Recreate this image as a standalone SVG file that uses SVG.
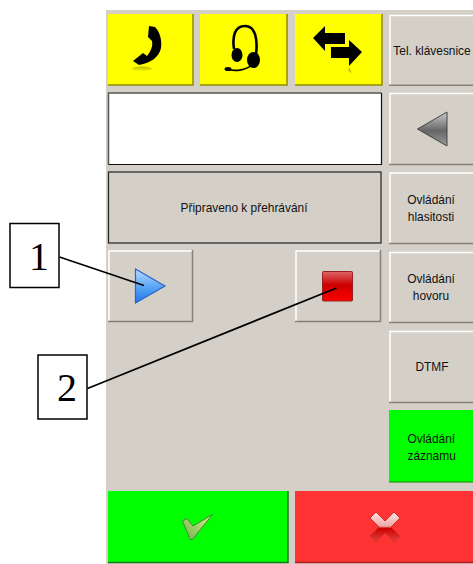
<svg xmlns="http://www.w3.org/2000/svg" width="473" height="564" viewBox="0 0 473 564">
<style>
.t{font-family:"Liberation Sans",Arial,sans-serif;font-size:11.9px;fill:#111;text-anchor:middle}
.l{text-anchor:start}
.n{font-family:"Liberation Serif","Times New Roman",serif;font-size:40px;fill:#000;text-anchor:middle}
.hi{fill:none;stroke:#fff;stroke-width:1.5}
.lo{fill:none;stroke:#85817b;stroke-width:1.5}
.face{fill:#d4d0c8}
.y{fill:#ff0;stroke:none}
.yl{fill:none;stroke:#8c8c00;stroke-width:1.5}
.b{fill:#fff;stroke:#000;stroke-width:1.5}
</style>
<defs>
<linearGradient id="gb" x1="0" y1="0" x2="0" y2="1"><stop offset="0" stop-color="#bcdcff"/><stop offset=".5" stop-color="#5ea8f5"/><stop offset="1" stop-color="#1f78e8"/></linearGradient>
<linearGradient id="gr" x1="0" y1="0" x2="0" y2="1"><stop offset="0" stop-color="#d66"/><stop offset=".45" stop-color="#c00"/><stop offset="1" stop-color="#f00"/></linearGradient>
<linearGradient id="gg" x1="0" y1="0" x2="0" y2="1"><stop offset="0" stop-color="#ccc"/><stop offset=".55" stop-color="#666"/><stop offset="1" stop-color="#999"/></linearGradient>
<linearGradient id="gc" x1="1" y1="0" x2="0" y2="1"><stop offset="0" stop-color="#d8f080"/><stop offset="1" stop-color="#70b050"/></linearGradient>
<linearGradient id="gx" x1="0" y1="0" x2="0" y2="1"><stop offset="0" stop-color="#ffe0e0"/><stop offset=".48" stop-color="#f0a8a8"/><stop offset=".55" stop-color="#c00"/><stop offset="1" stop-color="#e84040"/></linearGradient>
<linearGradient id="gf" x1="0" y1="0" x2="0" y2="1"><stop offset="0" stop-color="#b8b800"/><stop offset="1" stop-color="#ff0"/></linearGradient>
</defs>
<rect id="panel" x="106" y="10" width="367" height="554" class="face"/>

<g id="btn-phone"><rect x="108" y="14" width="85" height="71" class="y"/><path class="yl" d="M108 85H193V14"/>
<path d="M149 26L155 27C160 32 162 40 161 48C159 57 151 63 139 65L133 61L143 53L147 56C151 51 153 46 152 41L148 37Z" fill="#000"/>
<ellipse cx="142" cy="69" rx="10" ry="2.500" fill="url(#gf)"/></g>

<g id="btn-headset"><rect x="200" y="14" width="87" height="71" class="y"/><path class="yl" d="M200 85H287V14"/>
<g fill="none" stroke="#000"><path d="M234 49C232 36 235 26 245 26C255 26 258 38 256 55" stroke-width="2.6"/><path d="M226 69C236 72 247 70 253 64" stroke-width="1.6"/></g>
<ellipse cx="237" cy="55" rx="5.500" ry="7" fill="#000"/><ellipse cx="253.500" cy="60" rx="6.500" ry="8" fill="#000"/><ellipse cx="228" cy="69" rx="3.500" ry="2" fill="#000"/></g>

<g id="btn-transfer"><rect x="295" y="14" width="87" height="71" class="y"/><path class="yl" d="M295 85H382V14"/>
<path d="M313 38L325 26V33H345V44H325V51Z" fill="#000"/><path d="M362 52L349 40V47H331V58H349V66Z" fill="#000"/>
<path d="M349 67L352 73L348 71Z" fill="#c8c800"/></g>

<g id="btn-keypad"><rect x="389" y="15" width="84" height="70" class="face"/><path class="hi" d="M390 85V15.500H473"/><path class="lo" d="M389 85.200H473"/>
<text class="t" x="432" y="55">Tel. klávesnice</text></g>

<g id="display"><rect x="108.500" y="93" width="273" height="71.500" fill="#fff"/><path d="M108.500 164.500V93H381.500" fill="none" stroke="#555" stroke-width="1.500"/><path d="M108.500 164.500H381.500V93" fill="none" stroke="#111" stroke-width="1.200"/></g>

<g id="btn-back"><rect x="389" y="93" width="84" height="72" class="face"/><path class="hi" d="M390 164V93.500H473"/><path class="lo" d="M389 164.500H473"/>
<path d="M417.500 129L447 112V146Z" fill="url(#gg)" stroke="#444" stroke-width="1"/></g>

<g id="status"><rect x="108.500" y="172" width="272.500" height="71" fill="none" stroke="#222" stroke-width="1.200"/><text class="t" x="244" y="212">Připraveno k přehrávání</text></g>

<g id="btn-volume"><rect x="389" y="172" width="84" height="71" class="face"/><path class="hi" d="M390 243V173H473"/><path class="lo" d="M389 243.500H473"/>
<text class="t" x="431" y="204">Ovládání</text><text class="t" x="431" y="221">hlasitosti</text></g>

<g id="btn-play"><rect x="108" y="250" width="85" height="71" class="face"/><path class="hi" d="M109 321V251H193"/><path class="lo" d="M108 321.500H192.500V250"/>
<path d="M135.500 269L165 286L135.500 303Z" fill="url(#gb)" stroke="#2a62c8" stroke-width="1.200"/></g>

<g id="btn-stop"><rect x="295" y="250" width="86" height="71" class="face"/><path class="hi" d="M296 321V251H381"/><path class="lo" d="M295 321.500H380.500V250"/>
<rect x="322.500" y="271.500" width="30" height="29.500" rx="1" fill="url(#gr)" stroke="#982020"/></g>

<g id="btn-call"><rect x="389" y="252" width="84" height="70" class="face"/><path class="hi" d="M390 322V252.500H473"/><path class="lo" d="M389 322.500H473"/>
<text class="t" x="431" y="283">Ovládání</text><text class="t" x="431" y="300">hovoru</text></g>

<g id="btn-dtmf"><rect x="389" y="331" width="84" height="71" class="face"/><path class="hi" d="M390 402V331.500H473"/><path class="lo" d="M389 402.500H473"/>
<text class="t" x="432" y="371">DTMF</text></g>

<g id="btn-record"><rect x="389" y="410" width="84" height="72" fill="#0f0"/><path d="M389 482H473" stroke="#0a8a0a" stroke-width="1.200" fill="none"/>
<text class="t l" x="407.500" y="443">Ovládání</text><text class="t l" x="407.500" y="460">záznamu</text></g>

<g id="btn-ok"><rect x="108" y="491" width="180" height="72" fill="#0f0"/><path d="M108 562.500H288V491" stroke="#187818" stroke-width="1.500" fill="none"/>
<path d="M182.500 521L187 518.500L193 526L212.500 514.500L192.500 539.500H190Z" fill="url(#gc)" stroke="#3c8a3c" stroke-width="1"/></g>

<g id="btn-cancel"><rect x="295" y="491" width="178" height="72" fill="#f33"/><path d="M295 562.500H473" stroke="#b02020" stroke-width="1.500" fill="none"/>
<path d="M370 518L376 512L385 521L394 512L400 518L391 527L400 536L394 541.500L385 533L376 541.500L370 536L379 527Z" fill="url(#gx)" stroke="#c83030" stroke-width="1"/></g>

<g id="callout-1"><rect x="10" y="223.500" width="49" height="64" class="b"/><text class="n" x="39" y="270">1</text></g>
<g id="callout-2"><rect x="38" y="355" width="49" height="64" class="b"/><text class="n" x="67" y="401">2</text></g>

<g id="connectors" fill="none" stroke="#000" stroke-width="1.800">
<path d="M59.500 257L144 285.500"/>
<path d="M87.500 388.500L336.500 288"/>
</g>
</svg>
